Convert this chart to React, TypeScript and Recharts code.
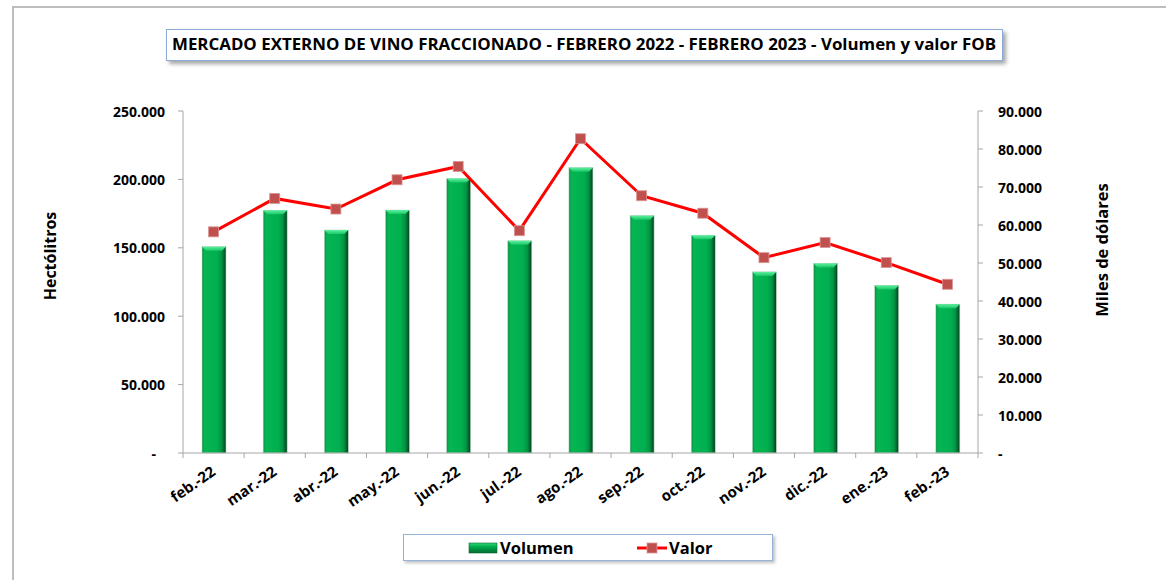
import React from 'react';
import { ComposedChart, Bar, Line, XAxis, YAxis } from 'recharts';

// Datos: exportaciones de vino fraccionado
const months = ['feb.-22', 'mar.-22', 'abr.-22', 'may.-22', 'jun.-22', 'jul.-22', 'ago.-22', 'sep.-22', 'oct.-22', 'nov.-22', 'dic.-22', 'ene.-23', 'feb.-23'];
const volumen = [150800, 177400, 163000, 177600, 200600, 155100, 208600, 173500, 159100, 132400, 138600, 122500, 108800];
const valor = [58200, 67000, 64200, 71900, 75400, 58500, 82700, 67700, 63100, 51400, 55400, 50100, 44400];
const volTicks = [0, 50000, 100000, 150000, 200000, 250000];
const valTicks = [0, 10000, 20000, 30000, 40000, 50000, 60000, 70000, 80000, 90000];

const TITLE = 'MERCADO EXTERNO DE VINO FRACCIONADO - FEBRERO 2022 - FEBRERO 2023 - Volumen y valor FOB';

const W = 1166;
const H = 580;
const LEFT_W = 183;
const RIGHT_W = 188;
const BAND = (W - LEFT_W - RIGHT_W) / months.length;
const FONT = '"Open Sans", "DejaVu Sans", sans-serif';
const AXIS = '#a6a6a6';

const data = months.map((m, i) => ({ m, volumen: volumen[i], valor: valor[i] }));

function fmt(v: number): string {
  if (v === 0) return '-';
  return String(v).replace(/\B(?=(\d{3})+(?!\d))/g, '.');
}

function LeftTick({ x, y, payload }: any) {
  const zero = payload.value === 0;
  return (
    <text x={zero ? x - 9 : x} y={y} textAnchor="end" dominantBaseline="central"
      fontFamily={FONT} fontWeight={700} fontSize={14} fill="#000">
      {fmt(payload.value)}
    </text>
  );
}

function RightTick({ x, y, payload }: any) {
  return (
    <text x={x} y={y} textAnchor="start" dominantBaseline="central"
      fontFamily={FONT} fontWeight={700} fontSize={14} fill="#000">
      {fmt(payload.value)}
    </text>
  );
}

function MonthTick({ x, y, payload, index }: any) {
  const tx = x + 3;
  const ty = y + 21;
  return (
    <g>
      <line x1={x - BAND / 2} x2={x - BAND / 2} y1={y} y2={y + 5} stroke={AXIS} />
      {index === months.length - 1 && (
        <line x1={x + BAND / 2} x2={x + BAND / 2} y1={y} y2={y + 5} stroke={AXIS} />
      )}
      <text x={tx} y={ty} transform={`rotate(-35 ${tx} ${ty})`} textAnchor="end"
        fontFamily={FONT} fontWeight={700} fontSize={15} fill="#000">
        {payload.value}
      </text>
    </g>
  );
}

function BevelBar({ x, y, width, height }: any) {
  if (!height || height <= 0) return null;
  const b = 4;
  return (
    <g>
      <rect x={x} y={y} width={width} height={height} fill="url(#barBody)" stroke="#b9d9c4" strokeWidth={0.6} />
      <polygon
        points={`${x},${y} ${x + width},${y} ${x + width - b},${y + b} ${x + b},${y + b}`}
        fill="url(#barTop)"
      />
    </g>
  );
}

function SquareDot({ cx, cy }: any) {
  if (cx == null || cy == null) return null;
  return <rect x={cx - 5} y={cy - 5} width={10} height={10} fill="#c0504d" stroke="#d99694" strokeWidth={0.8} />;
}

export default function App() {
  return (
    <div style={{ position: 'absolute', left: 0, top: 0, width: W, height: H, background: '#fff', overflow: 'hidden' }}>
      {/* marco del área del gráfico */}
      <div style={{ position: 'absolute', left: 12, top: 6, width: W, height: H, borderLeft: '2px solid #bdbdbd', borderTop: '2px solid #bdbdbd' }} />

      <div style={{ position: 'absolute', left: 0, top: 0 }}>
        <ComposedChart width={W} height={H} data={data} margin={{ top: 111, right: 0, bottom: 0, left: 0 }}>
          <defs>
            <linearGradient id="barBody" x1="0" y1="0" x2="1" y2="0">
              <stop offset="0%" stopColor="#0a8c40" />
              <stop offset="10%" stopColor="#05b452" />
              <stop offset="62%" stopColor="#00b050" />
              <stop offset="82%" stopColor="#019343" />
              <stop offset="100%" stopColor="#033d1c" />
            </linearGradient>
            <linearGradient id="barTop" x1="0" y1="0" x2="0" y2="1">
              <stop offset="0%" stopColor="#5ef0a0" />
              <stop offset="100%" stopColor="#19c866" />
            </linearGradient>
          </defs>
          <XAxis dataKey="m" height={127} axisLine={{ stroke: AXIS }} tickLine={false}
            tickSize={0} tickMargin={0} interval={0} tick={<MonthTick />} />
          <YAxis yAxisId="left" orientation="left" width={LEFT_W} domain={[0, 250000]} ticks={volTicks}
            axisLine={{ stroke: AXIS }} tickLine={{ stroke: AXIS }} tickSize={5} tickMargin={13}
            tick={<LeftTick />} interval={0} />
          <YAxis yAxisId="right" orientation="right" width={RIGHT_W} domain={[0, 90000]} ticks={valTicks}
            axisLine={{ stroke: AXIS }} tickLine={{ stroke: AXIS }} tickSize={5} tickMargin={15}
            tick={<RightTick />} interval={0} />
          <Bar yAxisId="left" dataKey="volumen" barSize={24} shape={<BevelBar />} isAnimationActive={false} />
          <Line yAxisId="right" dataKey="valor" type="linear" stroke="#ff0000" strokeWidth={3}
            dot={<SquareDot />} activeDot={false} isAnimationActive={false} />
        </ComposedChart>
      </div>

      {/* cuadro del título */}
      <div style={{ position: 'absolute', left: 166, top: 29, width: 837, height: 32, boxSizing: 'border-box', border: '1px solid #8eaad6', background: '#fff', boxShadow: '3px 3px 4px rgba(0,0,0,0.35)' }} />
      {/* cuadro de la leyenda */}
      <div style={{ position: 'absolute', left: 403, top: 534, width: 370, height: 27, boxSizing: 'border-box', border: '1px solid #95b3d7', background: '#fff', boxShadow: '2px 2px 3px rgba(0,0,0,0.25)' }} />

      <svg width={W} height={H} style={{ position: 'absolute', left: 0, top: 0, pointerEvents: 'none' }}>
        <defs>
          <linearGradient id="legBody" x1="0" y1="0" x2="0" y2="1">
            <stop offset="0%" stopColor="#2fd77a" />
            <stop offset="35%" stopColor="#00b050" />
            <stop offset="100%" stopColor="#036b30" />
          </linearGradient>
        </defs>
        <text x={584} y={50} textAnchor="middle" textLength={824} lengthAdjust="spacingAndGlyphs"
          fontFamily={FONT} fontWeight={700} fontSize={15.5} fill="#000">
          {TITLE}
        </text>
        <text x={50} y={256} transform="rotate(-90 50 256)" textAnchor="middle" dominantBaseline="central"
          fontFamily={FONT} fontWeight={700} fontSize={16} fill="#000">
          Hectólitros
        </text>
        <text x={1101} y={250} transform="rotate(-90 1101 250)" textAnchor="middle" dominantBaseline="central"
          fontFamily={FONT} fontWeight={700} fontSize={16.5} fill="#000">
          Miles de dólares
        </text>

        <rect x={469} y={543} width={28} height={10} fill="url(#legBody)" stroke="#0a6a30" strokeWidth={0.6} />
        <text x={500} y={554} fontFamily={FONT} fontWeight={700} fontSize={16.5} fill="#000">Volumen</text>
        <line x1={637} x2={667} y1={548} y2={548} stroke="#ff0000" strokeWidth={3} />
        <rect x={647} y={543} width={10} height={10} fill="#c0504d" stroke="#d99694" strokeWidth={0.8} />
        <text x={669} y={554} fontFamily={FONT} fontWeight={700} fontSize={16.5} fill="#000">Valor</text>
      </svg>
    </div>
  );
}
